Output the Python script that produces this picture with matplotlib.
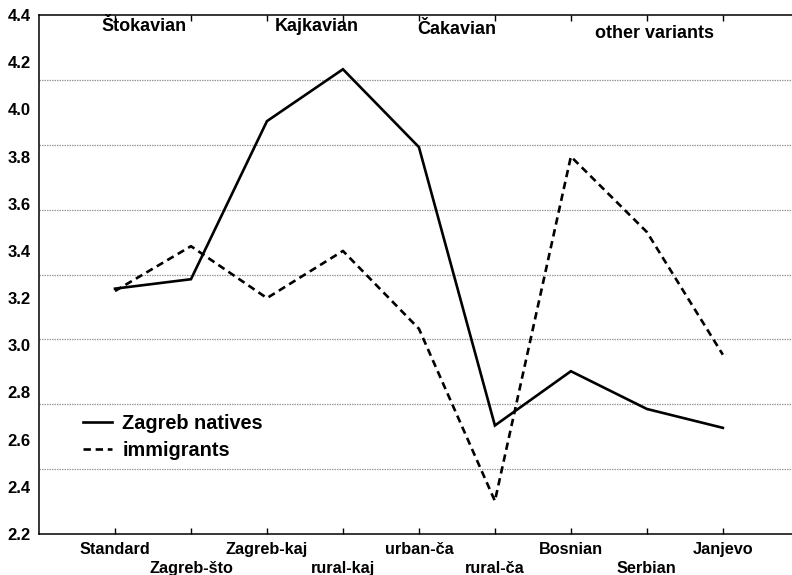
import numpy as np
import matplotlib
matplotlib.use("Agg")
from matplotlib import pyplot as plt
from matplotlib.ticker import FixedLocator

############## Data ##############
categories = ["Standard", "Zagreb-što", "Zagreb-kaj", "rural-kaj", "urban-ča",
              "rural-ča", "Bosnian", "Serbian", "Janjevo"]
natives = [3.24, 3.28, 3.95, 4.17, 3.84, 2.66, 2.89, 2.73, 2.65]
immigrants = [3.23, 3.42, 3.20, 3.40, 3.07, 2.34, 3.80, 3.48, 2.96]

group_names = ["Štokavian", "Kajkavian", "Čakavian", "other variants"]
group_x = [0.38, 2.65, 4.5, 7.1]
group_y = [4.35, 4.35, 4.34, 4.32]

y_labels = [2.2, 2.4, 2.6, 2.8, 3.0, 3.2, 3.4, 3.6, 3.8, 4.0, 4.2, 4.4]

############## Figure ##############
plt.rcParams['font.family'] = ['Liberation Sans', 'DejaVu Sans']
plt.rcParams['font.weight'] = 'bold'

W, H = 792, 575
fig = plt.figure(figsize=(W / 100, H / 100), dpi=100)
ax = fig.add_axes([39 / W, (H - 534) / H, (W - 39) / W, (534 - 15) / H])

x = np.arange(len(categories))
ax.plot(x, natives, color="black", lw=1.9, label="Zagreb natives", solid_joinstyle="miter")
ax.plot(x, immigrants, color="black", lw=1.9, dashes=(2.8, 1.8), label="immigrants")

ax.set_xlim(-1, 8.91)
ax.set_ylim(2.2, 4.4)

## y axis: labels evenly spaced, grid on eighths of the range
ax.yaxis.set_major_locator(FixedLocator(y_labels))
ax.set_yticklabels(["%.1f" % v for v in y_labels])
grid_vals = [2.2 + k * 0.275 for k in range(1, 8)]
ax.yaxis.set_minor_locator(FixedLocator(grid_vals))
ax.tick_params(axis="y", which="both", length=0, pad=6, labelsize=12)
ax.grid(axis="y", which="minor", color="#999999", lw=0.9, ls=(0, (1.2, 0.8)))
ax.grid(axis="y", which="major", visible=False)

## x axis: ticks everywhere, labels alternate between two rows
ax.set_xticks(x)
ax.set_xticklabels([c if i % 2 == 0 else "" for i, c in enumerate(categories)], fontsize=11.7)
ax.tick_params(axis="x", direction="in", length=4, width=1, top=True, pad=6)

ax2 = ax.secondary_xaxis("bottom")
ax2.set_xticks(x[1::2])
ax2.set_xticklabels(categories[1::2], fontsize=11.7)
ax2.tick_params(axis="x", length=0, pad=19.5)
ax2.spines["bottom"].set_visible(False)

for s in ["left", "bottom", "top"]:
    ax.spines[s].set_linewidth(1.1)
ax.spines["right"].set_visible(False)

## Group headers
for name, gx, gy in zip(group_names, group_x, group_y):
    ax.text(gx, gy, name, ha="center", va="center", fontsize=13, fontweight="bold")

leg = ax.legend(loc="upper left", bbox_to_anchor=(0.058, 0.232), frameon=False,
                fontsize=14.3, handlelength=1.5, handletextpad=0.5,
                borderpad=0, borderaxespad=0, labelspacing=0.4)

fig.savefig("out.png", dpi=100)
